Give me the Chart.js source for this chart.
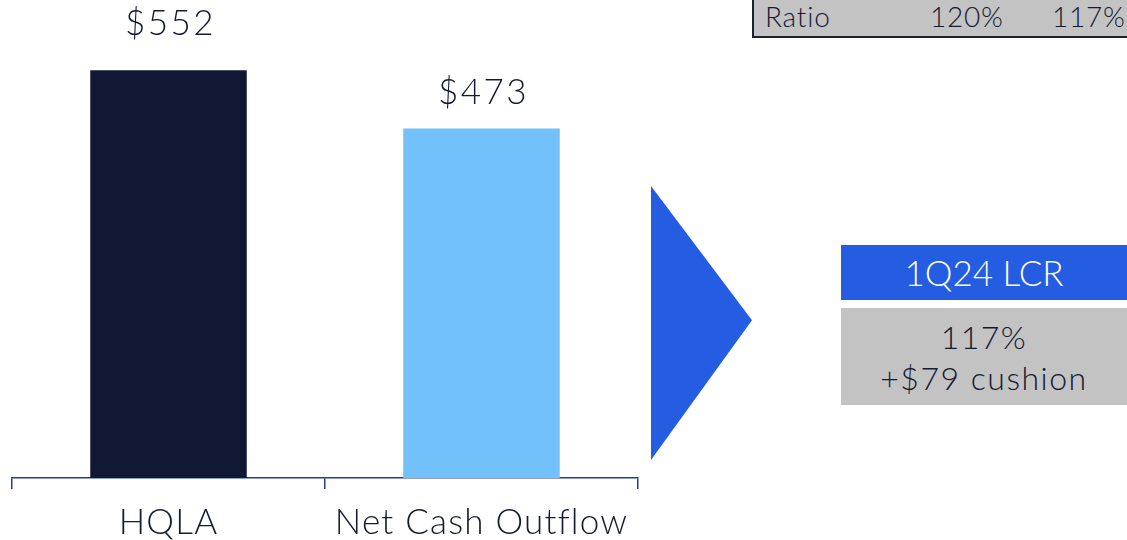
<!DOCTYPE html>
<html>
<head>
<meta charset="utf-8">
<script src="https://cdn.jsdelivr.net/npm/chart.js@4"></script>
<style>
  body { margin: 0; width: 1127px; height: 540px; overflow: hidden; background: #fff; font-family: Lato, sans-serif; font-weight: 300; color: #131a33; }
  #wrap { position: absolute; left: 0; top: 0; width: 660px; height: 540px; }
  .abs { position: absolute; box-sizing: border-box; }
  #arrow { left: 651px; top: 186px; width: 101px; height: 274px; background: #255de2; clip-path: polygon(0 0, 100% 49%, 0 100%); }
  #lcrHead { left: 841px; top: 245px; width: 286px; height: 55px; background: #255de2; color: #fff; font-size: 35px; line-height: 55px; text-align: center; }
  #lcrBody { left: 841px; top: 308px; width: 286px; height: 97px; background: #c3c3c3; font-size: 32px; line-height: 41px; text-align: center; padding-top: 8px; letter-spacing: 1.5px; }
  #ratio { left: 752px; top: 0; width: 375px; height: 38px; background: #c3c3c3; border-left: 2px solid #1a1f36; border-bottom: 2px solid #1a1f36; font-size: 28px; line-height: 32px; letter-spacing: 0.8px; }
  #ratio span { position: absolute; top: 0; }
</style>
</head>
<body>
<div id="wrap"><canvas id="lcrChart"></canvas></div>
<div id="arrow" class="abs"></div>
<div id="lcrHead" class="abs"></div>
<div id="lcrBody" class="abs"></div>
<div id="ratio" class="abs"></div>
<script>
const categories = ['HQLA', 'Net Cash Outflow'];
const values = [552, 473];
const barColors = ['#111833', '#72c1fa'];
const ratioRow = ['Ratio', '120%', '117%'];
const lcrTitle = '1Q24 LCR';
const lcrLines = ['117%', '+$79 cushion'];

document.getElementById('lcrHead').textContent = lcrTitle;
document.getElementById('lcrBody').innerHTML = lcrLines.join('<br>');
const ratioPos = [11, 176, 298];
const ratioBox = document.getElementById('ratio');
ratioRow.forEach((t, i) => {
  const s = document.createElement('span');
  s.textContent = t;
  s.style.left = ratioPos[i] + 'px';
  ratioBox.appendChild(s);
});

const labelOffsets = [35, 25];

// wider letter spacing for the canvas text
const spacing = {
  id: 'spacing',
  beforeDraw(chart) { chart.ctx.letterSpacing = '1.2px'; }
};

const valueLabels = {
  id: 'valueLabels',
  afterDatasetsDraw(chart) {
    const ctx = chart.ctx;
    const meta = chart.getDatasetMeta(0);
    ctx.save();
    ctx.letterSpacing = '2.5px';
    ctx.font = '300 35px Lato';
    ctx.fillStyle = '#131a33';
    ctx.textAlign = 'center';
    ctx.textBaseline = 'alphabetic';
    meta.data.forEach((bar, i) => {
      ctx.fillText('$' + values[i], bar.x + 2, bar.y - labelOffsets[i]);
    });
    ctx.restore();
  }
};

new Chart('lcrChart', {
  type: 'bar',
  data: {
    labels: categories,
    datasets: [{
      data: values,
      backgroundColor: barColors,
      categoryPercentage: 1,
      barPercentage: 0.5
    }]
  },
  options: {
    responsive: true,
    maintainAspectRatio: false,
    animation: false,
    layout: { padding: { left: 12, right: 22, top: 0, bottom: 0 } },
    plugins: { legend: { display: false }, tooltip: { enabled: false } },
    scales: {
      x: {
        offset: true,
        grid: { offset: true, drawOnChartArea: false, drawTicks: true, tickLength: 11, color: '#1f3f8f', lineWidth: 1.5 },
        border: { color: '#1f3f8f', width: 1.5 },
        ticks: { color: '#131a33', font: { family: 'Lato', size: 35, weight: '300' }, padding: 13 },
        afterFit(scale) { scale.height = 62; }
      },
      y: { display: false, min: 0, max: 647 }
    }
  },
  plugins: [spacing, valueLabels]
});
</script>
</body>
</html>
